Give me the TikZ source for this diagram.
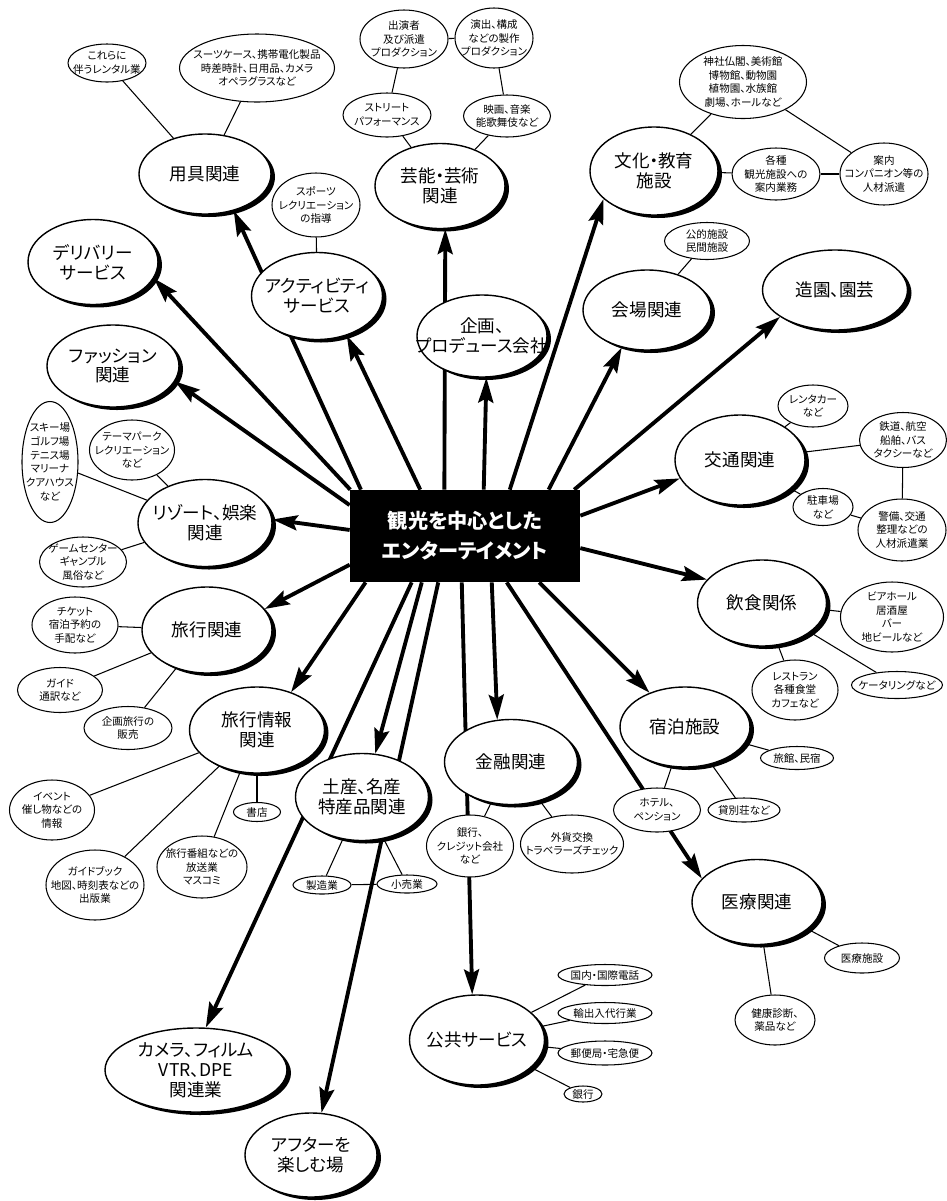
\documentclass[tikz,border=0pt]{standalone}
\usepackage{fontspec}
\setmainfont{Noto Sans CJK JP}[RawFeature=+palt]
\usetikzlibrary{shapes.geometric, arrows.meta, shadows, backgrounds}
\tikzset{
	hubbox/.style  ={rectangle, fill=black, text=white, minimum width=4.6cm, minimum height=1.84cm, align=center, font=\fontsize{11.5}{17}\selectfont\bfseries},
	bigell/.style  ={ellipse, draw=black, line width=0.8pt, fill=white, inner sep=0pt, minimum width=2.6cm, minimum height=1.7cm, drop shadow={shadow xshift=0.08cm, shadow yshift=-0.06cm, fill=black, opacity=1}, label={[bigtxt]center:#1}},
	bigtxt/.style  ={align=center, inner sep=0pt, font=\fontsize{10}{11.3}\selectfont},
	smell/.style   ={ellipse, draw=black, line width=0.6pt, fill=white, inner sep=0pt, label={[smtxt]center:#1}},
	smtxt/.style   ={align=center, inner sep=0pt, font=\fontsize{6}{7.8}\selectfont},
	sz/.style 2 args={minimum width=#1*0.02cm, minimum height=#2*0.02cm},
	% radial arrows and sub-node links
	arr/.style     ={line width=2.2pt, -{Stealth[length=0.5cm, width=0.3cm, inset=0.08cm]}},
	ln/.style      ={line width=0.6pt},
}

\begin{document}
\begin{tikzpicture}[x=0.02cm, y=-0.02cm]
	\useasboundingbox (0,0) rectangle (947,1201);
	\node[hubbox] (hub) at (465,536) {観光を中心とした\\エンターテイメント};

	\node[bigell={用具関連}, sz={132}{80}] (yogu) at (205,174) {};
	\node[bigell={デリバリー\\サービス}] (deli) at (93,262) {};
	\node[bigell={ファッション\\関連}, sz={132}{82}] (fash) at (113,366) {};
	\node[bigell={アクティビティ\\サービス}, sz={131}{87}] (act) at (317,296) {};
	\node[bigell={芸能・芸術\\関連}, sz={130}{85}] (geino) at (440,186) {};
	\node[bigell={企画、\\プロデュース会社}, sz={130}{82}] (kikaku) at (482,336) {};
	\node[bigell={文化・教育\\施設}, sz={128}{88}] (bunka) at (654,171) {};
	\node[bigell={会場関連}, sz={128}{80}] (kaijo) at (647,310) {};
	\node[bigell={造園、園芸}, sz={145}{80}] (zoen) at (835,290) {};
	\node[bigell={交通関連}, sz={130}{90}] (kotsu) at (740,460) {};
	\node[bigell={飲食関係}, sz={129}{86}] (inshoku) at (762,603) {};
	\node[bigell={宿泊施設}, sz={130}{80}] (shuku) at (685,727) {};
	\node[bigell={医療関連}, sz={130}{85}] (iryo) at (757,902) {};
	\node[bigell={金融関連}, sz={133}{85}] (kinyu) at (511,762) {};
	\node[bigell={公共サービス}, sz={135}{90}] (kokyo) at (477,1040) {};
	\node[bigell={アフターを\\楽しむ場}, sz={132}{84}] (after) at (311,1155) {};
	\node[bigell={カメラ、フィルム\\VTR、DPE\\関連業}, sz={182}{84}] (camera) at (196,1070) {};
	\node[bigell={土産、名産\\特産品関連}, sz={133}{87}] (miyage) at (362,797) {};
	\node[bigell={旅行情報\\関連}, sz={135}{86}] (joho) at (257,730) {};
	\node[bigell={旅行関連}, sz={130}{86}] (ryoko) at (207,630) {};
	\node[bigell={リゾート、娯楽\\関連}, sz={134}{87}] (resort) at (205,523) {};

	\node[smell={これらに\\伴うレンタル業}, sz={78}{38}] (y1) at (107,63) {};
	\node[smell={スーツケース、携帯電化製品\\時差時計、日用品、カメラ\\オペラグラスなど}, sz={155}{68}] (y2) at (257,68) {};
	\node[smell={スポーツ\\レクリエーション\\の指導}, sz={88}{64}] (a1) at (316,205) {};
	\node[smell={出演者\\及び派遣\\プロダクション}, sz={88}{58}] (g1) at (404,39) {};
	\node[smell={演出、構成\\などの製作\\プロダクション}, sz={78}{60}] (g2) at (494,38) {};
	\node[smell={ストリート\\パフォーマンス}, sz={88}{44}] (g3) at (387,115) {};
	\node[smell={映画、音楽\\能歌舞伎など}, sz={87}{42}] (g4) at (507,116) {};
	\node[smell={神社仏閣、美術館\\博物館、動物園\\植物園、水族館\\劇場、ホールなど}, sz={127}{73}] (b1) at (743,82) {};
	\node[smell={各種\\観光施設への\\案内業務}, sz={88}{52}] (b2) at (776,174) {};
	\node[smell={案内\\コンパニオン等の\\人材派遣}, sz={88}{62}] (b3) at (884,174) {};
	\node[smell={公的施設\\民間施設}, sz={85}{37}] (k1) at (707,241) {};
	\node[smell={レンタカー\\など}, sz={70}{42}] (t1) at (813,406) {};
	\node[smell={鉄道、航空\\船舶、バス\\タクシーなど}, sz={87}{55}] (t2) at (903,440) {};
	\node[smell={駐車場\\など}, sz={60}{37}] (t3) at (823,507) {};
	\node[smell={警備、交通\\整理などの\\人材派遣業}, sz={88}{62}] (t4) at (902,530) {};
	\node[smell={ビアホール\\居酒屋\\バー\\地ビールなど}, sz={103}{70}] (i1) at (892,617) {};
	\node[smell={レストラン\\各種食堂\\カフェなど}, sz={86}{60}] (i2) at (795,690) {};
	\node[smell={ケータリングなど}, sz={91}{27}] (i3) at (897,685) {};
	\node[smell={旅館、民宿}, sz={73}{23}] (s1) at (797,758) {};
	\node[smell={ホテル、\\ペンション}, sz={87}{44}] (s2) at (657,810) {};
	\node[smell={貸別荘など}, sz={72}{24}] (s3) at (744,810) {};
	\node[smell={医療施設}, sz={75}{30}] (m1) at (862,958) {};
	\node[smell={健康診断、\\薬品など}, sz={80}{50}] (m2) at (775,1020) {};
	\node[smell={銀行、\\クレジット会社\\など}, sz={87}{62}] (f1) at (470,846) {};
	\node[smell={外貨交換\\トラベラーズチェック}, sz={103}{58}] (f2) at (572,844) {};
	\node[smell={国内・国際電話}, sz={94}{21}] (p1) at (605,975) {};
	\node[smell={輸出入代行業}, sz={94}{21}] (p2) at (605,1013) {};
	\node[smell={郵便局・宅急便}, sz={94}{24}] (p3) at (605,1053) {};
	\node[smell={銀行}, sz={38}{16}] (p4) at (583,1094) {};
	\node[smell={製造業}, sz={58}{18}] (u1) at (322,885) {};
	\node[smell={小売業}, sz={60}{18}] (u2) at (407,884) {};
	\node[smell={イベント\\催し物などの\\情報}, sz={85}{60}] (j1) at (52,810) {};
	\node[smell={書店}, sz={47}{19}] (j2) at (257,812) {};
	\node[smell={旅行番組などの\\放送業\\マスコミ}, sz={90}{62}] (j3) at (202,867) {};
	\node[smell={ガイドブック\\地図、時刻表などの\\出版業}, sz={98}{70}] (j4) at (95,885) {};
	\node[smell={チケット\\宿泊予約の\\手配など}, sz={86}{56}] (r1) at (75,625) {};
	\node[smell={ガイド\\通訳など}, sz={85}{45}] (r2) at (60,690) {};
	\node[smell={企画旅行の\\販売}, sz={88}{43}] (r3) at (128,728) {};
	\node[smell={スキー場\\ゴルフ場\\テニス場\\マリーナ\\クアハウス\\など}, sz={56}{121}] (e1) at (50,462) {};
	\node[smell={テーマパーク\\レクリエーション\\など}, sz={85}{60}] (e2) at (132,450) {};
	\node[smell={ゲームセンター\\ギャンブル\\風俗など}, sz={87}{50}] (e3) at (83,562) {};

	\begin{scope}[on background layer]
		\draw[arr] (hub.156) -- (yogu.-52);
		\draw[arr] (hub.158) -- (deli.-15);
		\draw[arr] (hub.165) -- (fash.-14);
		\draw[arr] (hub.177) -- (resort.3);
		\draw[arr] (hub.194) -- (ryoko.20);
		\draw[arr] (hub.205) -- (joho.48);
		\draw[arr] (hub.221) -- (camera.77);
		\draw[arr] (hub.227) -- (miyage.73);
		\draw[arr] (hub.240) -- (after.76);
		\draw[arr] (hub.266) -- (kokyo.96);
		\draw[arr] (hub.300) -- (kinyu.108);
		\draw[arr] (hub.312) -- (iryo.157);
		\draw[arr] (hub.328) -- (shuku.136);
		\draw[arr] (hub.354) -- (inshoku.157);
		\draw[arr] (hub.10) -- (kotsu.197);
		\draw[arr] (hub.23) -- (zoen.206);
		\draw[arr] (hub.29) -- (kaijo.236);
		\draw[arr] (hub.46) -- (bunka.209);
		\draw[arr] (hub.68) -- (kikaku.276);
		\draw[arr] (hub.114) -- (geino.277);
		\draw[arr] (hub.134) -- (act.-53);

		\foreach \a/\b in {yogu/y1, yogu/y2, act/a1, g1/g2, g1/g3, g2/g4, g3/geino, g4/geino,
			bunka/b1, b1/b3, bunka/b2, b2/b3, kaijo/k1, kotsu/t1, kotsu/t2, kotsu/t3, t3/t4, t2/t4,
			inshoku/i1, inshoku/i2, inshoku/i3, shuku/s1, shuku/s2, shuku/s3, iryo/m1, iryo/m2,
			kinyu/f1, kinyu/f2, kokyo/p1, kokyo/p2, kokyo/p3, kokyo/p4, miyage/u1, miyage/u2, u1/u2,
			joho/j1, joho/j2, joho/j3, joho/j4, ryoko/r1, ryoko/r2, ryoko/r3, resort/e1, resort/e2, resort/e3}
			\draw[ln] (\a) -- (\b);
	\end{scope}
\end{tikzpicture}
\end{document}
